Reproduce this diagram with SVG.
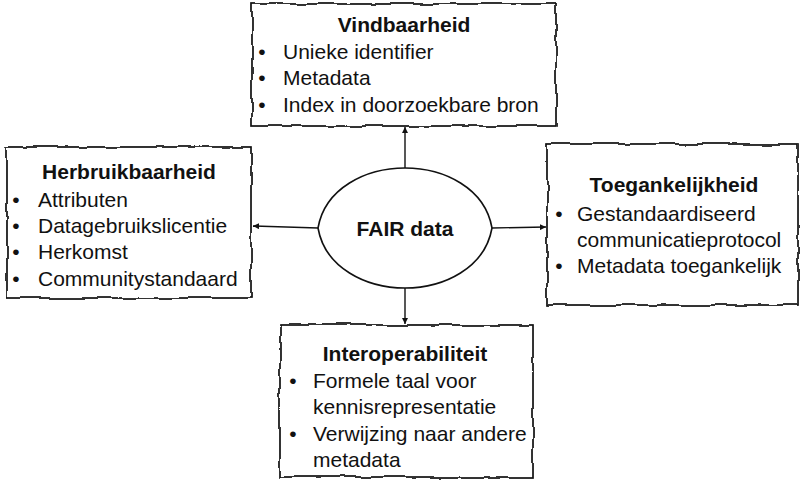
<svg xmlns="http://www.w3.org/2000/svg" width="801" height="490" viewBox="0 0 801 490">
<style>
text{font-family:"Liberation Sans",Arial,sans-serif;font-size:21px;fill:#111}
.t{font-weight:bold;text-anchor:middle}
.b{text-anchor:middle}
.box{fill:#fff;stroke:#111;stroke-width:1.7;filter:url(#rough)}
.c{stroke:#111;stroke-width:1.4;fill:none;marker-end:url(#ah)}
</style>
<defs>
<filter id="rough" x="-5%" y="-10%" width="110%" height="120%">
<feTurbulence type="fractalNoise" baseFrequency="0.045" numOctaves="2" seed="3" result="n"/>
<feDisplacementMap in="SourceGraphic" in2="n" scale="5" xChannelSelector="R" yChannelSelector="G"/>
</filter>
<marker id="ah" viewBox="0 0 10 10" refX="10" refY="5" markerWidth="6" markerHeight="6" markerUnits="userSpaceOnUse" orient="auto">
<path d="M0,0 L10,5 L0,10 Z" fill="#111"/>
</marker>
</defs>
<rect width="801" height="490" fill="#fff"/>
<g id="connectors">
<line class="c" x1="405" y1="168" x2="405" y2="127"/>
<line class="c" x1="318" y1="228" x2="253" y2="226"/>
<line class="c" x1="492" y1="228" x2="546" y2="227"/>
<line class="c" x1="405" y1="288" x2="405" y2="324"/>
</g>
<g id="vindbaarheid">
<rect class="box" x="252" y="4" width="304" height="122"/>
<text class="t" x="404" y="32">Vindbaarheid</text>
<text class="b" x="262" y="59">•</text><text x="283" y="59">Unieke identifier</text>
<text class="b" x="262" y="85">•</text><text x="283" y="85">Metadata</text>
<text class="b" x="262" y="112">•</text><text x="283" y="112">Index in doorzoekbare bron</text>
</g>
<g id="herbruikbaarheid">
<rect class="box" x="7" y="147" width="244" height="151"/>
<text class="t" x="129" y="179">Herbruikbaarheid</text>
<text class="b" x="16" y="207">•</text><text x="38" y="207">Attributen</text>
<text class="b" x="16" y="233">•</text><text x="38" y="233">Datagebruikslicentie</text>
<text class="b" x="16" y="259">•</text><text x="38" y="259">Herkomst</text>
<text class="b" x="16" y="286">•</text><text x="38" y="286">Communitystandaard</text>
</g>
<g id="toegankelijkheid">
<rect class="box" x="547" y="144" width="251" height="161"/>
<text class="t" x="674" y="192">Toegankelijkheid</text>
<text class="b" x="559" y="221">•</text><text x="577" y="221">Gestandaardiseerd</text>
<text x="577" y="247">communicatieprotocol</text>
<text class="b" x="559" y="273">•</text><text x="577" y="273">Metadata toegankelijk</text>
</g>
<g id="interoperabiliteit">
<rect class="box" x="280" y="325" width="253" height="152"/>
<text class="t" x="405" y="361">Interoperabiliteit</text>
<text class="b" x="293" y="388">•</text><text x="313" y="388">Formele taal voor</text>
<text x="313" y="414">kennisrepresentatie</text>
<text class="b" x="293" y="441">•</text><text x="313" y="441">Verwijzing naar andere</text>
<text x="313" y="467">metadata</text>
</g>
<g id="fair">
<path d="M318,228 C325,188 366,168 405,168 C444,168 485,188 492,228 C485,268 444,288 405,288 C366,288 325,268 318,228 Z" fill="#fff" stroke="#111" stroke-width="1.6"/>
<text class="t" x="405" y="236">FAIR data</text>
</g>
</svg>
